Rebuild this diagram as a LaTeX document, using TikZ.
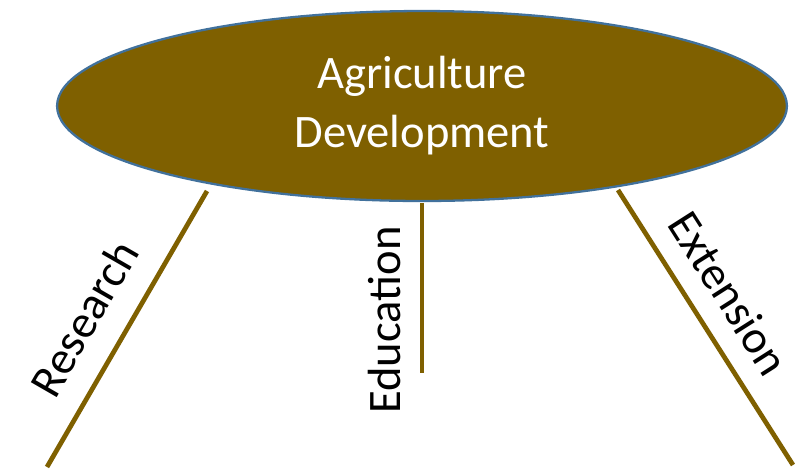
\documentclass[tikz,border=0pt]{standalone}
\usepackage{fontspec}
\setmainfont{Carlito}
\usetikzlibrary{shapes.geometric}
\definecolor{agribrown}{HTML}{7F6000}
\definecolor{agriblue}{HTML}{41719C}
\begin{document}
\begin{tikzpicture}[x=0.02cm,y=-0.02cm,
		branch/.style={draw=agribrown,line width=2.7pt},
		branchlabel/.style={font=\fontsize{26.5}{33}\selectfont,inner sep=0pt}]
		\useasboundingbox (0,0) rectangle (795,468);

		% central ellipse
		\node[ellipse,fill=agribrown,draw=agriblue,line width=1.3pt,
			minimum width=14.6cm,minimum height=3.8cm,align=center,text=white,
			font=\fontsize{26.5}{33.5}\selectfont] (agri) at (422,106) {Agriculture\\Development};

		% branch ends
		\coordinate (resTop) at (207,191);
		\coordinate (resEnd) at (47,467);
		\coordinate (eduTop) at (422,203);
		\coordinate (eduEnd) at (422,373);
		\coordinate (extTop) at (618,190);
		\coordinate (extEnd) at (793,465);

		\draw[branch] (resTop) -- (resEnd);
		\draw[branch] (eduTop) -- (eduEnd);
		\draw[branch] (extTop) -- (extEnd);

		\node[branchlabel,rotate=60] (research) at (84,318) {Research};
		\node[branchlabel,rotate=90] (education) at (385,320) {Education};
		\node[branchlabel,rotate=-57.5] (extension) at (729,293) {Extension};
	\end{tikzpicture}
\end{document}
